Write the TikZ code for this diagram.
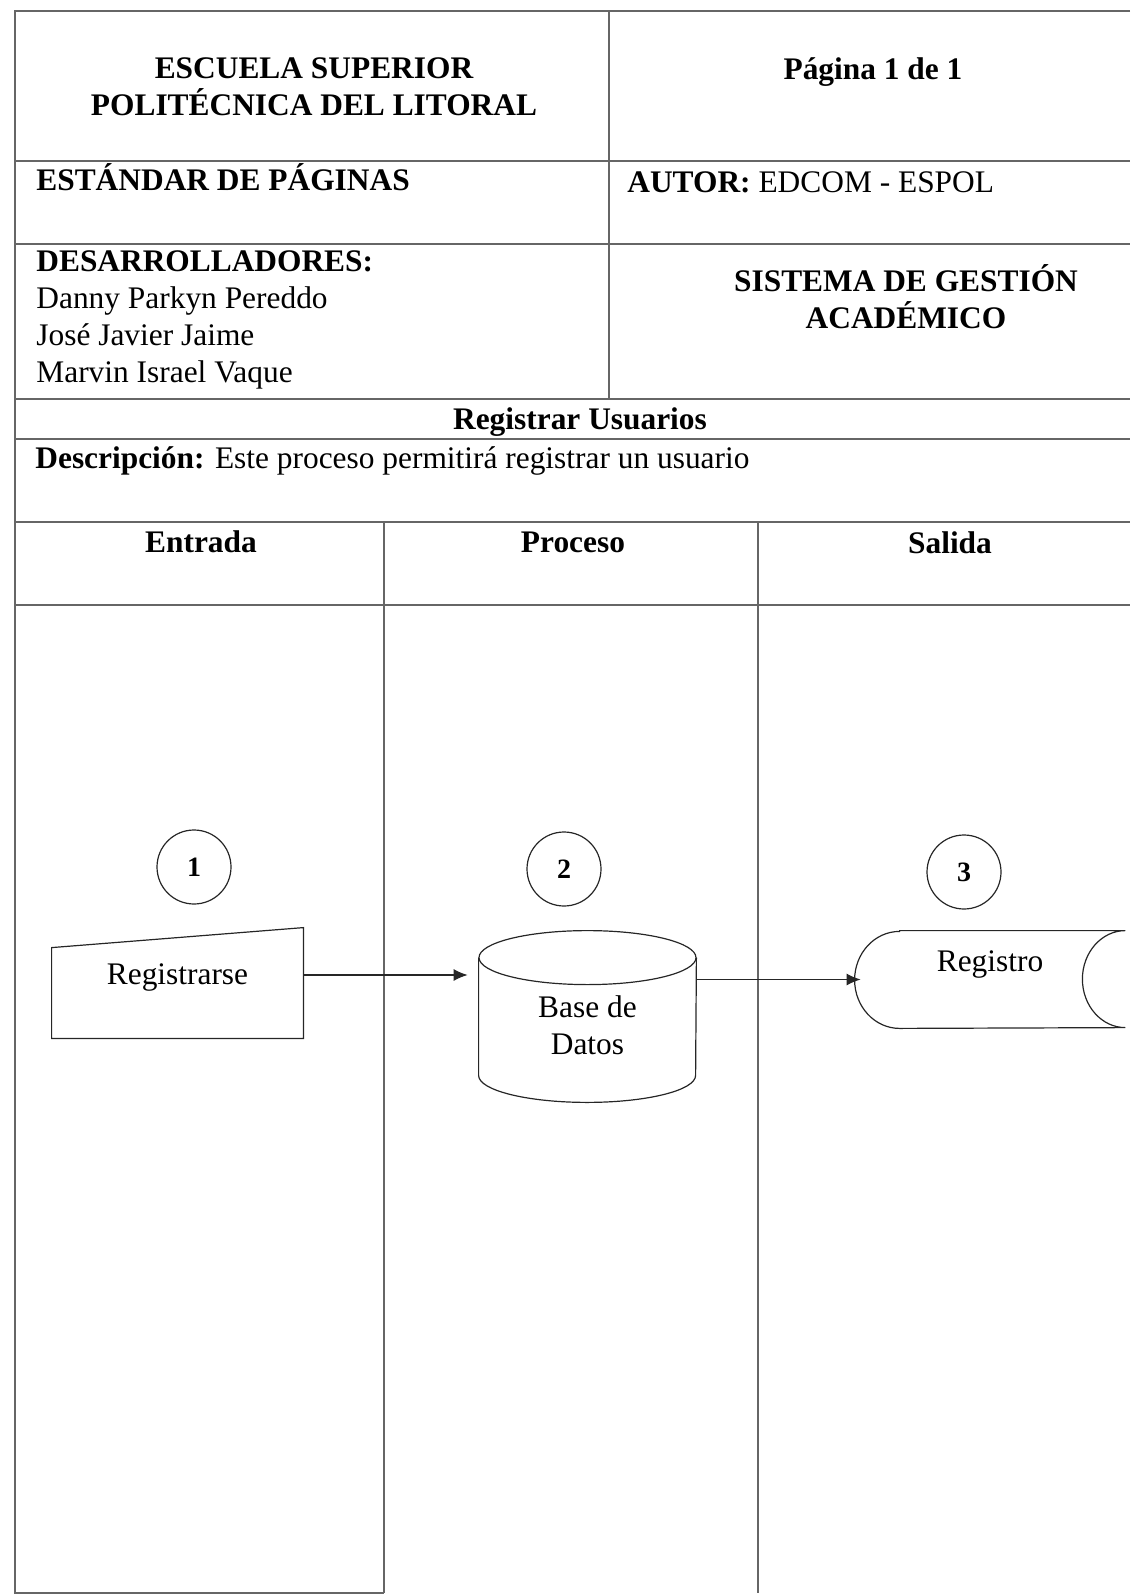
\documentclass[tikz,border=0pt]{standalone}
\usepackage{fontspec}
\setmainfont{Liberation Serif}
\usetikzlibrary{positioning,calc,arrows.meta}
\newcommand{\tamano}{\fontsize{15.7}{18.5}\selectfont}

\tikzset{
  linea/.style={draw=black!60, line width=0.6pt},
  figura/.style={draw=black!85, line width=0.6pt},
  flecha/.style={draw=black!85, line width=0.6pt, -{Latex[length=7pt,width=6pt]}},
  texto/.style={inner sep=0pt, anchor=base},
  negrita/.style={font=\tamano\bfseries},
  izq/.style={inner sep=0pt, anchor=base west, align=left},
  forma/.style={inner sep=0pt, align=center},
  paso/.style={circle, draw=black!85, line width=0.6pt, minimum size=37pt, inner sep=0pt,
    font=\fontsize{14}{15}\selectfont\bfseries},
}

\begin{document}
\begin{tikzpicture}[x=0.5pt, y=-0.5pt, font=\tamano]
  \useasboundingbox (0,0) rectangle (1130,1595);
  % tabla
  \draw[linea] (1130,11) -- (15,11) -- (15,1593) -- (384,1593);
  \foreach \fila in {161,244,399,439,522,605}
    \draw[linea] (15,\fila) -- (1130,\fila);
  \draw[linea] (609,11) -- (609,399);
  \draw[linea] (384,522) -- (384,1593);
  \draw[linea] (758,522) -- (758,1593);

  % encabezado (multilinea: la base es la ultima linea)
  \node[texto, negrita, align=center] (escuela) at (314,116) {ESCUELA SUPERIOR\\POLITÉCNICA DEL LITORAL};
  \node[texto, negrita] (pagina) at (873,80) {Página 1 de 1};
  \node[izq, negrita] (estandar) at (36,191) {ESTÁNDAR DE PÁGINAS};
  \node[izq] (autor) at (627,192) {\textbf{AUTOR:} EDCOM - ESPOL};
  \node[izq] (desarrolladores) at (36,382) {\textbf{DESARROLLADORES:}\\Danny Parkyn Pereddo\\José Javier Jaime\\Marvin Israel Vaque};
  \node[texto, negrita, align=center] (sistema) at (906,328) {SISTEMA DE GESTIÓN\\ACADÉMICO};
  \node[texto, negrita] (proceso) at (580,429) {Registrar Usuarios};
  \node[izq] (descripcion) at (35,468) {\textbf{Descripción:} Este proceso permitirá registrar un usuario};
  \node[texto, negrita] (entrada) at (201,552) {Entrada};
  \node[texto, negrita] (procesocol) at (573,552) {Proceso};
  \node[texto, negrita] (salida) at (950,553) {Salida};

  % pasos
  \node[paso] (n1) at (194,867) {1};
  \node[paso] (n2) at (564,869) {2};
  \node[paso] (n3) at (964,872) {3};

  % entrada manual
  \node[forma, minimum width=125.5pt, minimum height=55pt, text height=8pt, text depth=7pt] (registrarse) at (177.5,983) {Registrarse};
  \draw[figura] (registrarse.south west) -- (registrarse.south east) -- (registrarse.north east)
    -- ([yshift=-10pt]registrarse.north west) -- cycle;

  % base de datos
  \node[forma, minimum width=108.5pt, minimum height=85.5pt, text height=40pt, text depth=2.5pt] (bd) at (587.5,1016.5) {Base de\\Datos};
  \draw[figura] ([yshift=-13.5pt]bd.north) ellipse[x radius=54.25pt, y radius=13.5pt];
  \draw[figura] ([yshift=-13.5pt]bd.north west) -- ([yshift=13.5pt]bd.south west)
    arc[start angle=180, end angle=360, x radius=54.25pt, y radius=13.5pt]
    -- ([yshift=-13.5pt]bd.north east);

  % salida almacenada
  \node[forma, minimum width=135pt, minimum height=48.5pt, text height=6pt, text depth=14.5pt] (registro) at (990,979.5) {Registro};
  \draw[figura] ([xshift=22.5pt]registro.north west) -- (registro.north east)
    arc[start angle=90, end angle=270, x radius=21.5pt, y radius=24.25pt]
    -- ([xshift=22.5pt]registro.south west)
    arc[start angle=270, end angle=90, x radius=22.5pt, y radius=24.25pt] -- cycle;

  % flujo
  \draw[flecha, shorten >=5.5pt] ([yshift=4pt]registrarse.east) -- ([yshift=4pt]registrarse.east -| bd.west);
  \draw[flecha, shorten >=-3pt] (bd.east |- registro.west) -- (registro.west);
\end{tikzpicture}
\end{document}
